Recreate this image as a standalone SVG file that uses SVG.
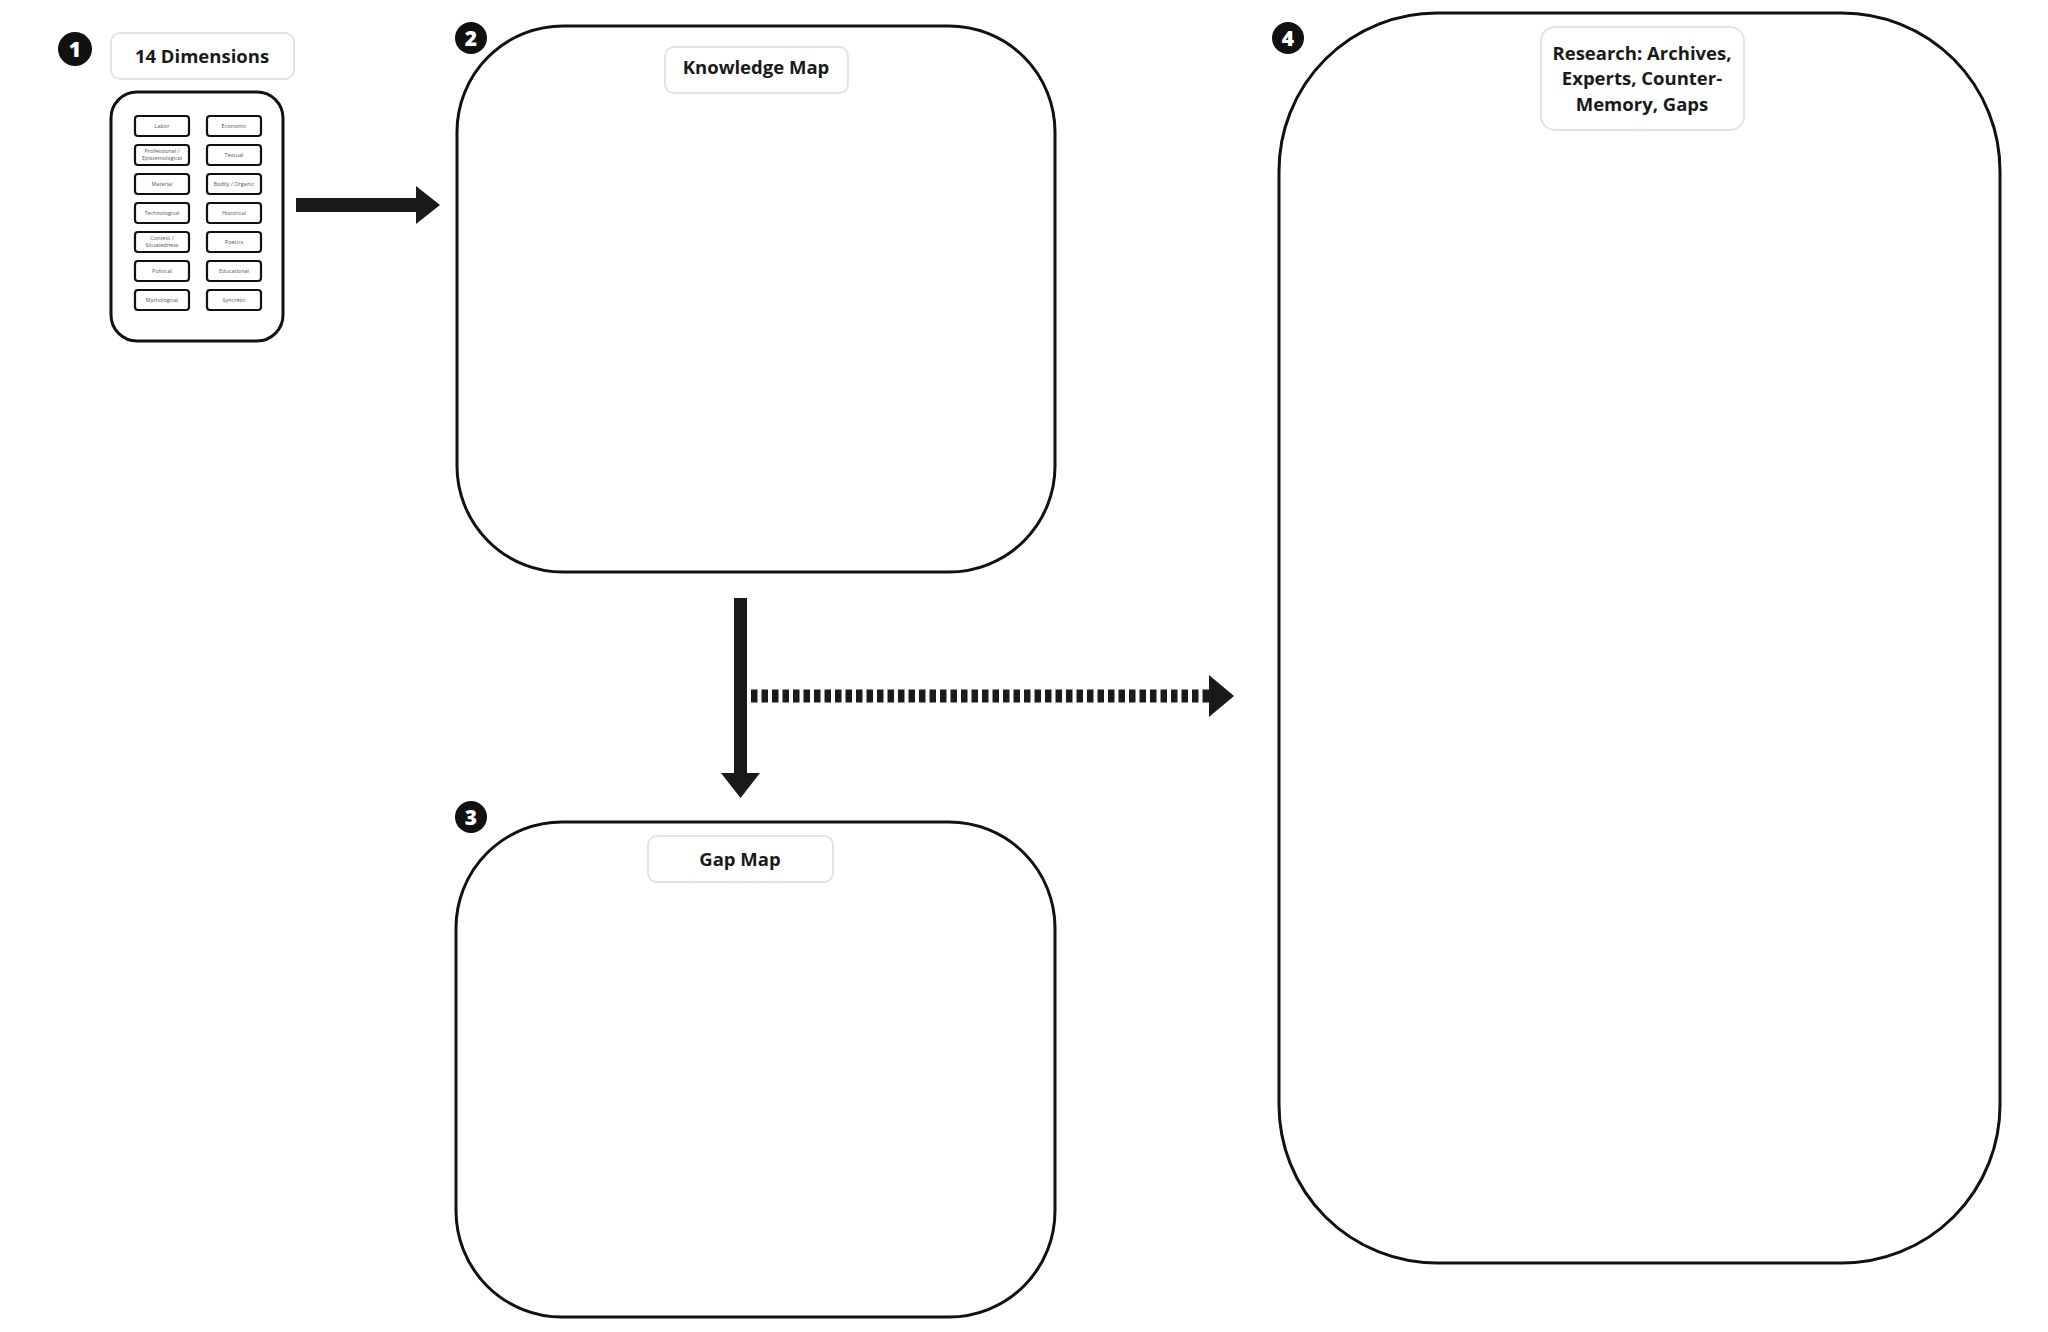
<svg xmlns="http://www.w3.org/2000/svg" width="2048" height="1332" viewBox="0 0 2048 1332">
<style>
.frame{fill:#fff;stroke:#111;stroke-width:3}
.lbl{fill:#fff;stroke:#e3e3e3;stroke-width:2}
.lt{font-family:"Open Sans","Liberation Sans",sans-serif;font-weight:700;font-size:18.5px;fill:#1a1a1a;text-anchor:middle}
.badge{fill:#111}
.bt{font-family:"Open Sans","Liberation Sans",sans-serif;font-weight:800;font-size:21px;fill:#fff;text-anchor:middle}
.dim{fill:#fff;stroke:#111;stroke-width:2.2}
.dt{font-family:"Open Sans","Liberation Sans",sans-serif;font-size:5.5px;fill:#555;text-anchor:middle}
.ar{fill:#1a1a1a}
</style>
<rect width="2048" height="1332" fill="#fff"/>

<g id="node1">
<circle class="badge" cx="75" cy="49" r="17"/>
<text class="bt" x="75" y="57">1</text>
<rect class="lbl" x="111" y="33" width="183" height="46" rx="9"/>
<text class="lt" x="202" y="63">14 Dimensions</text>
<rect class="frame" x="111" y="92" width="172" height="249" rx="26"/>
<g id="dims">
<rect class="dim" x="135" y="116" width="54" height="20" rx="3"/><text class="dt" x="162" y="128">Labor</text>
<rect class="dim" x="207" y="116" width="54" height="20" rx="3"/><text class="dt" x="234" y="128">Economic</text>
<rect class="dim" x="135" y="145" width="54" height="20" rx="3"/><text class="dt" x="162" y="153">Professional /</text><text class="dt" x="162" y="160">Epistemological</text>
<rect class="dim" x="207" y="145" width="54" height="20" rx="3"/><text class="dt" x="234" y="157">Textual</text>
<rect class="dim" x="135" y="174" width="54" height="20" rx="3"/><text class="dt" x="162" y="186">Material</text>
<rect class="dim" x="207" y="174" width="54" height="20" rx="3"/><text class="dt" x="234" y="186">Bodily / Organic</text>
<rect class="dim" x="135" y="203" width="54" height="20" rx="3"/><text class="dt" x="162" y="215">Technological</text>
<rect class="dim" x="207" y="203" width="54" height="20" rx="3"/><text class="dt" x="234" y="215">Historical</text>
<rect class="dim" x="135" y="232" width="54" height="20" rx="3"/><text class="dt" x="162" y="240">Context /</text><text class="dt" x="162" y="247">Situatedness</text>
<rect class="dim" x="207" y="232" width="54" height="20" rx="3"/><text class="dt" x="234" y="244">Poetics</text>
<rect class="dim" x="135" y="261" width="54" height="20" rx="3"/><text class="dt" x="162" y="273">Political</text>
<rect class="dim" x="207" y="261" width="54" height="20" rx="3"/><text class="dt" x="234" y="273">Educational</text>
<rect class="dim" x="135" y="290" width="54" height="20" rx="3"/><text class="dt" x="162" y="302">Mythological</text>
<rect class="dim" x="207" y="290" width="54" height="20" rx="3"/><text class="dt" x="234" y="302">Syncretic</text>
</g>
</g>

<g id="node2">
<rect class="frame" x="457" y="26" width="598" height="546" rx="106"/>
<circle class="badge" cx="471" cy="38" r="16"/>
<text class="bt" x="471" y="46">2</text>
<rect class="lbl" x="665" y="47" width="183" height="46" rx="9"/>
<text class="lt" x="756" y="74">Knowledge Map</text>
</g>

<g id="node3">
<rect class="frame" x="456" y="822" width="599" height="495" rx="106"/>
<circle class="badge" cx="471" cy="817" r="16"/>
<text class="bt" x="471" y="825">3</text>
<rect class="lbl" x="648" y="836" width="185" height="46" rx="9"/>
<text class="lt" x="740" y="866">Gap Map</text>
</g>

<g id="node4">
<rect class="frame" x="1279" y="13" width="721" height="1250" rx="158"/>
<circle class="badge" cx="1288" cy="38" r="16"/>
<text class="bt" x="1288" y="46">4</text>
<rect class="lbl" x="1541" y="27" width="203" height="103" rx="14"/>
<text class="lt" x="1642" y="60">Research: Archives,</text>
<text class="lt" x="1642" y="85">Experts, Counter-</text>
<text class="lt" x="1642" y="111">Memory, Gaps</text>
</g>

<g id="connectors">
<path class="ar" d="M296 198 H416 V186 L440 205 L416 224 V212 H296 Z"/>
<path class="ar" d="M734 598 H747 V773 H760 L740.5 798 L721 773 H734 Z"/>
<line x1="751" y1="696" x2="1210" y2="696" stroke="#1a1a1a" stroke-width="13" stroke-dasharray="6.5 4"/>
<path class="ar" d="M1209 675 L1234 696 L1209 717 Z"/>
</g>
</svg>
